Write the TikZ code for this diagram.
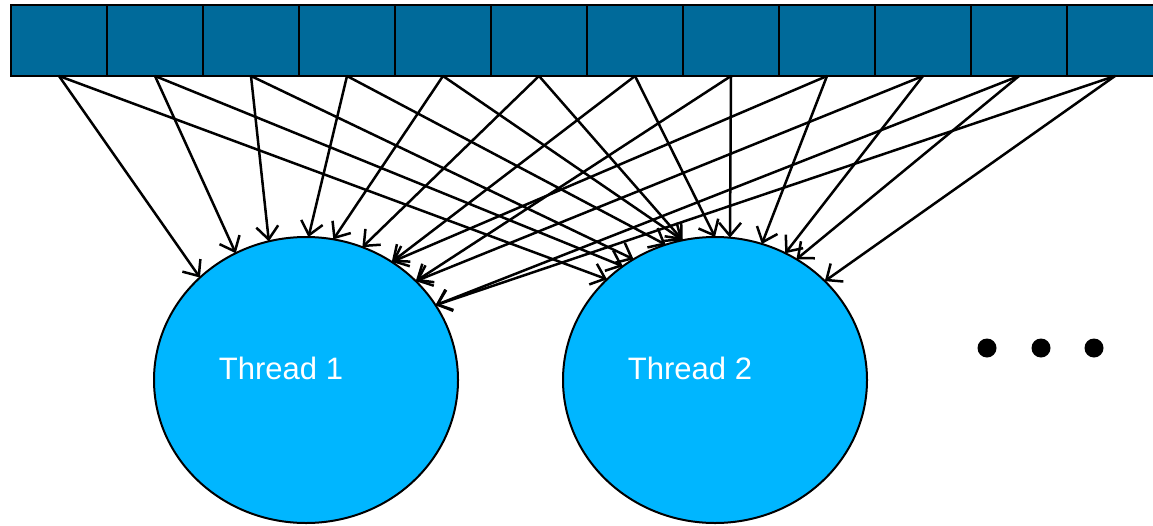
\documentclass[tikz,border=0pt]{standalone}
\usepackage{fontspec}
\setmainfont{Liberation Sans}
\usetikzlibrary{shapes.geometric,arrows.meta}
\definecolor{cellblue}{RGB}{0,106,154}
\definecolor{threadblue}{RGB}{0,182,255}
\tikzset{
  cell/.style={draw=black, line width=2.6pt, fill=cellblue, minimum width=96pt, minimum height=71pt, inner sep=0pt, outer sep=0pt},
  thread/.style={ellipse, draw=black, line width=2pt, fill=threadblue, minimum width=304pt, minimum height=286pt, inner sep=0pt, outer sep=0pt},
  tlabel/.style={text=white, font=\fontsize{31}{36}\selectfont, anchor=base, inner sep=0pt},
  link/.style={line width=2.5pt, -{Straight Barb[length=13pt,width=22pt,line width=2.5pt]}},
  dot/.style={circle, fill=black, minimum size=19pt, inner sep=0pt}
}
\begin{document}
\begin{tikzpicture}[x=1pt,y=-1pt]
\useasboundingbox (0,0) rectangle (1153,525);
\fill[white] (0,0) rectangle (1153,525);
% cells
\foreach \i in {1,...,12} {
  \node[cell] (b\i) at ({59+96*(\i-1)},40.5) {};
}
% threads
\node[thread] (t1) at (306,380) {};
\node[thread] (t2) at (715,380) {};
\node[tlabel] (l1) at (281,379) {Thread 1};
\node[tlabel] (l2) at (690,379) {Thread 2};
% dots
\node[dot] (d1) at (987,348) {};
\node[dot] (d2) at (1041,348) {};
\node[dot] (d3) at (1094,348) {};
% links to thread 1
\foreach \i/\a in {1/136.9, 2/119.7, 3/105, 4/89.6, 5/79.8, 6/67.1, 7/54, 8/42.6, 9/54, 10/42.6, 11/30.8, 12/30.8} {
  \draw[link] (b\i.south) -- (t1.\a);
}
% links to thread 2
\foreach \i/\a in {1/137.7, 2/129.4, 3/124.2, 4/110.6, 5/103.6, 6/103.6, 7/90.8, 8/84.1, 9/71.6, 10/61.8, 11/56.2, 12/42.8} {
  \draw[link] (b\i.south) -- (t2.\a);
}
\end{tikzpicture}
\end{document}
